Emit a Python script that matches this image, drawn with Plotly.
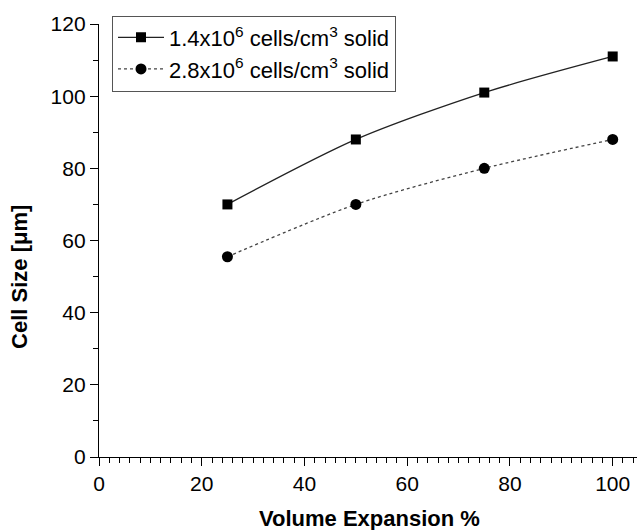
import plotly.graph_objects as go

volume_expansion = [25, 50, 75, 100]
cell_size_low = [70, 88, 101, 111]
cell_size_high = [55.5, 70, 80, 88]
series_names = ["1.4x10<sup>6</sup> cells/cm<sup>3</sup> solid",
                "2.8x10<sup>6</sup> cells/cm<sup>3</sup> solid"]
x_ticks = [0, 20, 40, 60, 80, 100]
y_ticks = [0, 20, 40, 60, 80, 100, 120]

FONT = "Liberation Sans, Arial, sans-serif"

fig = go.Figure()
fig.add_trace(go.Scatter(
    x=volume_expansion, y=cell_size_low, name=series_names[0],
    mode="lines+markers",
    line=dict(color="#222222", width=1.3, shape="spline", smoothing=0.8),
    marker=dict(symbol="square", size=10, color="black"),
))
fig.add_trace(go.Scatter(
    x=volume_expansion, y=cell_size_high, name=series_names[1],
    mode="lines+markers",
    line=dict(color="#444444", width=1.3, dash="dot", shape="spline", smoothing=0.8),
    marker=dict(symbol="circle", size=11, color="black"),
))

L, R, T, B = 99, 0, 23.5, 72.5
W, H = 637, 530
PW, PH = W - L - R, H - B - T

fig.update_layout(
    width=W, height=H,
    margin=dict(l=L, r=R, t=T, b=B, pad=0),
    paper_bgcolor="white", plot_bgcolor="white",
    font=dict(family=FONT, size=21, color="black"),
    showlegend=True,
    legend=dict(
        x=(112 - L) / PW, y=(H - B - 15) / PH,
        xanchor="left", yanchor="top",
        bordercolor="#555555", borderwidth=1, bgcolor="white",
        font=dict(family=FONT, size=22, color="black"),
        tracegroupgap=0, itemwidth=46,
    ),
    xaxis=dict(
        range=[0, 104.73], tickvals=x_ticks, ticks="outside", ticklen=8, tickwidth=1.3,
        tickcolor="black", showline=True, linecolor="black", linewidth=1.3,
        showgrid=False, zeroline=False, tickfont=dict(size=21),
        minor=dict(dtick=2, ticks="outside", ticklen=5, tickwidth=1, tickcolor="black", showgrid=False),
    ),
    yaxis=dict(
        range=[0, 120], tickvals=y_ticks, ticks="outside", ticklen=8, tickwidth=1.3,
        tickcolor="black", showline=True, linecolor="black", linewidth=1.3,
        showgrid=False, zeroline=False, tickfont=dict(size=21),
        minor=dict(dtick=10, ticks="outside", ticklen=5, tickwidth=1, tickcolor="black", showgrid=False),
    ),
    annotations=[
        dict(text="<b>Volume Expansion %</b>", xref="paper", yref="paper",
             x=(369 - L) / PW, y=-(519 - (H - B)) / PH,
             xanchor="center", yanchor="middle", showarrow=False,
             font=dict(family=FONT, size=22, color="black")),
        dict(text="<b>Cell Size [μm]</b>", xref="paper", yref="paper",
             x=-(L - 20) / PW, y=(H - B - 277) / PH,
             xanchor="center", yanchor="middle", textangle=-90, showarrow=False,
             font=dict(family=FONT, size=22, color="black")),
    ],
)

fig.write_html("out.html")
